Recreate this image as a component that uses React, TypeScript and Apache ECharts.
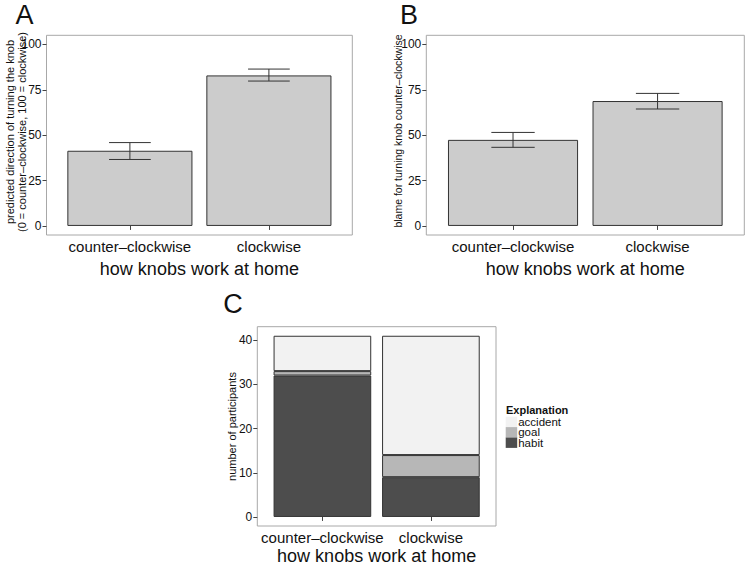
import React, { useEffect, useRef } from "react";
import * as echarts from "echarts";

// ---------- data ----------
const homeCategories = ["counter\u2013clockwise", "clockwise"];

// Panel A: predicted direction of turning the knob
const predictedMean = [41.4, 82.9];
const predictedLow = [36.6, 79.8];
const predictedHigh = [45.9, 86.4];

// Panel B: blame for turning knob counter-clockwise
const blameMean = [47.4, 68.8];
const blameLow = [43.3, 64.4];
const blameHigh = [51.5, 73.0];

// Panel C: number of participants by explanation
const explanationStackOrder = ["habit", "goal", "accident"];
const explanationLegendOrder = ["accident", "goal", "habit"];
const habitCounts = [32, 9];
const goalCounts = [1, 5];
const accidentCounts = [8, 27];

// ---------- styles ----------
const FONT = '"Liberation Sans", Arial, Helvetica, sans-serif';
const fillColors: Record<string, string> = {
  accident: "#F2F2F2",
  goal: "#B7B7B7",
  habit: "#4D4D4D",
};
const PANEL_BORDER = "#A8A8A8";
const DARK = "#333333";

// panel rectangles (ggplot panels): y axis range is expanded around [min,max]
const panels = [
  { left: 46.5, top: 35.3, width: 305.8, height: 199.7, min: 0, max: 100, step: 25, lo: -5, hi: 105 },
  { left: 426.3, top: 35.3, width: 318, height: 199.7, min: 0, max: 100, step: 25, lo: -5, hi: 105 },
  { left: 257.3, top: 326.7, width: 238.7, height: 199.3, min: 0, max: 40, step: 10, lo: -2.05, hi: 43.05 },
];

function geom(p: any) {
  const unit = p.width / 2.2;
  const pxPerVal = p.height / (p.hi - p.lo);
  return {
    unit,
    gridLeft: p.left + 0.1 * unit,
    gridWidth: 2 * unit,
    gridTop: p.top + (p.hi - p.max) * pxPerVal,
    gridHeight: (p.max - p.min) * pxPerVal,
    xOffset: (p.min - p.lo) * pxPerVal,
    yOffset: 0.1 * unit,
  };
}

export default function App() {
  const ref = useRef<HTMLDivElement>(null);

  useEffect(() => {
    if (!ref.current) return;
    const chart = echarts.init(ref.current, undefined, { renderer: "svg" });

    const g = panels.map(geom);

    const grids = g.map((q) => ({
      left: q.gridLeft,
      top: q.gridTop,
      width: q.gridWidth,
      height: q.gridHeight,
      containLabel: false,
    }));

    const xAxes = g.map((q, i) => ({
      gridIndex: i,
      type: "category",
      data: homeCategories,
      offset: q.xOffset,
      axisLine: { show: false },
      splitLine: { show: false },
      axisTick: { show: true, alignWithLabel: true, length: 4, lineStyle: { color: "#444", width: 1 } },
      axisLabel: {
        interval: 0,
        fontSize: 15,
        color: "#111",
        fontFamily: FONT,
        margin: 11.7,
        verticalAlign: "middle",
      },
    }));

    const yAxes = g.map((q, i) => ({
      gridIndex: i,
      type: "value",
      min: panels[i].min,
      max: panels[i].max,
      interval: panels[i].step,
      offset: q.yOffset,
      axisLine: { show: false },
      splitLine: { show: false },
      axisTick: { show: true, length: 4, lineStyle: { color: "#444", width: 1 } },
      axisLabel: { fontSize: 12, color: "#111", fontFamily: FONT, margin: 5 },
    }));

    const barSeries = (idx: number, values: number[]) => ({
      type: "bar",
      xAxisIndex: idx,
      yAxisIndex: idx,
      barWidth: "90%",
      data: values,
      silent: true,
      itemStyle: { color: "#CCCCCC", borderColor: DARK, borderWidth: 1 },
    });

    const errorBarSeries = (idx: number, low: number[], high: number[]) => ({
      type: "custom",
      xAxisIndex: idx,
      yAxisIndex: idx,
      z: 5,
      silent: true,
      encode: { x: 0, y: [1, 2] },
      data: homeCategories.map((_c, i) => [i, low[i], high[i]]),
      renderItem: (_params: any, api: any) => {
        const x = api.value(0);
        const lo = api.coord([x, api.value(1)]);
        const hi = api.coord([x, api.value(2)]);
        const half = (api.size([1, 0])[0] * 0.3) / 2;
        const style = { stroke: DARK, lineWidth: 1 };
        return {
          type: "group",
          children: [
            { type: "line", shape: { x1: lo[0], y1: lo[1], x2: hi[0], y2: hi[1] }, style },
            { type: "line", shape: { x1: hi[0] - half, y1: hi[1], x2: hi[0] + half, y2: hi[1] }, style },
            { type: "line", shape: { x1: lo[0] - half, y1: lo[1], x2: lo[0] + half, y2: lo[1] }, style },
          ],
        };
      },
    });

    const countsByName: Record<string, number[]> = {
      habit: habitCounts,
      goal: goalCounts,
      accident: accidentCounts,
    };

    const stackSeries = explanationStackOrder.map((name) => ({
      type: "bar",
      name,
      stack: "participants",
      xAxisIndex: 2,
      yAxisIndex: 2,
      barWidth: "90%",
      clip: false,
      silent: true,
      data: countsByName[name],
      itemStyle: { color: fillColors[name], borderColor: DARK, borderWidth: 1 },
    }));

    const panelBorders = panels.map((p) => ({
      type: "rect",
      z: 0,
      silent: true,
      shape: { x: p.left, y: p.top, width: p.width, height: p.height },
      style: { fill: "none", stroke: PANEL_BORDER, lineWidth: 1 },
    }));

    const legendX = 505.7;
    const legendTop = 416.7;
    const keyH = 10.4;
    const keyW = 11.5;

    const legendGraphics: any[] = [
      {
        type: "text",
        x: 506,
        y: 409.5,
        style: {
          text: "Explanation",
          fontFamily: FONT,
          fontWeight: "bold",
          fontSize: 11,
          fill: "#111",
          align: "left",
          verticalAlign: "middle",
        },
      },
    ];
    explanationLegendOrder.forEach((name, i) => {
      legendGraphics.push({
        type: "rect",
        shape: { x: legendX, y: legendTop + i * keyH, width: keyW, height: keyH },
        style: { fill: fillColors[name], stroke: null },
      });
      legendGraphics.push({
        type: "text",
        x: legendX + keyW + 1,
        y: legendTop + i * keyH + keyH / 2,
        style: {
          text: name,
          fontFamily: FONT,
          fontSize: 11.5,
          lineHeight: 10.4,
          fill: "#111",
          align: "left",
          verticalAlign: "middle",
        },
      });
    });

    const label = (text: string, x: number, y: number, size: number) => ({
      type: "text",
      x,
      y,
      style: {
        text,
        fontFamily: FONT,
        fontSize: size,
        fill: "#111",
        align: "center",
        verticalAlign: "middle",
      },
    });

    const rotated = (text: string, x: number, y: number, size: number, lineHeight?: number) => ({
      type: "text",
      x,
      y,
      rotation: Math.PI / 2,
      style: {
        text,
        fontFamily: FONT,
        fontSize: size,
        lineHeight: lineHeight ?? size * 1.1,
        fill: "#111",
        align: "center",
        verticalAlign: "middle",
      },
    });

    const option: any = {
      animation: false,
      backgroundColor: "#ffffff",
      grid: grids,
      xAxis: xAxes,
      yAxis: yAxes,
      series: [
        barSeries(0, predictedMean),
        errorBarSeries(0, predictedLow, predictedHigh),
        barSeries(1, blameMean),
        errorBarSeries(1, blameLow, blameHigh),
        ...stackSeries,
      ],
      graphic: [
        ...panelBorders,
        label("A", 24.5, 14.5, 27),
        label("B", 409, 14.5, 27),
        label("C", 233, 303.5, 27),
        label("how knobs work at home", panels[0].left + panels[0].width / 2, 268.5, 18),
        label("how knobs work at home", panels[1].left + panels[1].width / 2, 268.5, 18),
        label("how knobs work at home", panels[2].left + panels[2].width / 2, 555.8, 18),
        rotated(
          "predicted direction of turning the knob\n(0 = counter\u2013clockwise, 100 = clockwise)",
          15.8,
          132,
          11,
          11.5
        ),
        rotated("blame for turning knob counter\u2013clockwise", 397.5, 131, 10.5),
        rotated("number of participants", 231.7, 426.5, 11),
        ...legendGraphics,
      ],
    };

    chart.setOption(option);
    return () => chart.dispose();
  }, []);

  return (
    <div
      ref={ref}
      style={{ position: "absolute", left: 0, top: 0, width: 745, height: 565, background: "#fff" }}
    />
  );
}
